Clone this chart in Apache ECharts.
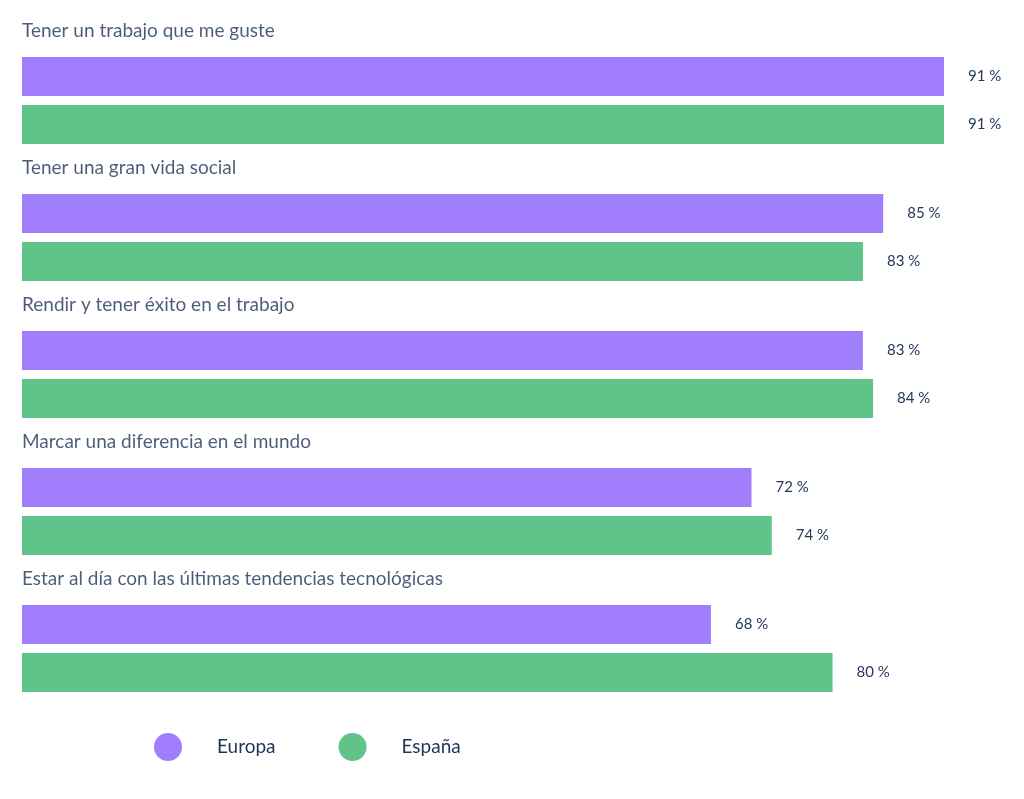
<!DOCTYPE html>
<html>
<head>
<meta charset="utf-8">
<script src="https://cdn.jsdelivr.net/npm/echarts@6/dist/echarts.min.js"></script>
<style>html,body{margin:0;background:#fff}#main{width:1024px;height:799px}</style>
</head>
<body>
<div id="main"></div>
<script>
// datos
var categories = [
    'Tener un trabajo que me guste',
    'Tener una gran vida social',
    'Rendir y tener éxito en el trabajo',
    'Marcar una diferencia en el mundo',
    'Estar al día con las últimas tendencias tecnológicas'
];
var europa = [91, 85, 83, 72, 68];
var espana = [91, 83, 84, 74, 80];

var chart = echarts.init(document.getElementById('main'));
var font = 'Lato, "Noto Sans", sans-serif';
var valueLabel = {
    show: true,
    position: 'right',
    distance: 24,
    formatter: '{c} %',
    color: '#24395b',
    fontSize: 15,
    fontFamily: font
};
chart.setOption({
    animation: false,
    grid: { left: 22, right: 80, top: 32, bottom: 82 },
    xAxis: { type: 'value', min: 0, max: 91, show: false },
    yAxis: {
        type: 'category',
        data: categories,
        inverse: true,
        show: false
    },
    legend: {
        bottom: 33,
        left: 149,
        icon: 'circle',
        itemWidth: 28,
        itemHeight: 28,
        itemGap: 63,
        data: ['Europa', 'España'],
        textStyle: { color: '#1e3356', fontSize: 19, fontFamily: font, padding: [0, 0, 0, 30] }
    },
    series: [
        {
            name: 'Europa',
            type: 'bar',
            data: europa,
            barWidth: 39,
            barGap: '23%',
            itemStyle: { color: '#a07efc' },
            label: valueLabel
        },
        {
            name: 'España',
            type: 'bar',
            data: espana,
            barWidth: 39,
            itemStyle: { color: '#5fc38a' },
            label: valueLabel
        },
        {
            // títulos de cada grupo
            name: 'titulos',
            type: 'scatter',
            symbolSize: 0,
            silent: true,
            data: categories.map(function (c, i) { return [0, i]; }),
            label: {
                show: true,
                position: 'right',
                distance: 0,
                offset: [0, -70],
                formatter: function (p) { return categories[p.dataIndex]; },
                color: '#1e3356',
                fontSize: 19,
                fontFamily: font
            }
        }
    ]
});
</script>
</body>
</html>
